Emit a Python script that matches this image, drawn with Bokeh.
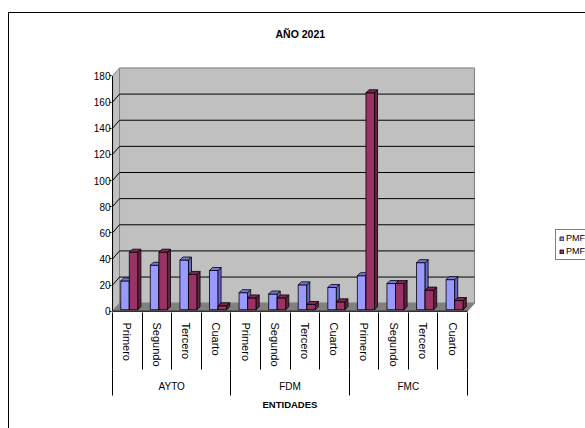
from bokeh.plotting import figure
from bokeh.models import Range1d, LinearAxis, FixedTicker, Legend, LegendItem, Title
from bokeh.embed import file_html
from bokeh.resources import INLINE

# ---------------- data ----------------
groups = ["AYTO", "FDM", "FMC"]
periods = ["Primero", "Segundo", "Tercero", "Cuarto"]
series_names = ["PMF", "PMF"]
pmf_a = [22, 34, 38, 30, 13, 12, 19, 17, 26, 20, 36, 23]
pmf_b = [44, 44, 27, 3, 9, 9, 4, 6, 166, 20, 15, 7]
y_ticks = [0, 20, 40, 60, 80, 100, 120, 140, 160, 180]
title_text = "AÑO 2021"
x_title = "ENTIDADES"

# ---------------- geometry / style ----------------
W, H = 585, 428
PX_X = 29.58          # px per category
PX_Y = 1.3056         # px per value unit
n = len(groups) * len(periods)
FL, FT = 111, 65
x0 = -0.035
x1 = x0 + (W - FL) / PX_X        # frame runs to the right edge (legend area)
y0, y1 = -1.0, 188.0
FH = round((y1 - y0) * PX_Y)

WDX, WDY = 7 / PX_X, 8 / PX_Y        # wall depth
BSX, BSY = 2 / PX_X, 1.5 / PX_Y      # bar placement inside depth
BDX, BDY = 3 / PX_X, 3 / PX_Y        # bar depth
BW = 0.29
ymax = y_ticks[-1]

BLUE, BLUE_SIDE, BLUE_TOP = "#9999ff", "#6666cc", "#7777dd"
MAR, MAR_SIDE, MAR_TOP = "#993366", "#66223f", "#7a2950"

border_css = ("linear-gradient(#000,#000) 8px 12px / 100% 1px no-repeat, "
              "linear-gradient(#000,#000) 8px 12px / 1px 100% no-repeat")

p = figure(width=W, height=H, output_backend="svg", toolbar_location=None,
           x_range=Range1d(x0, x1), y_range=Range1d(y0, y1),
           x_axis_location=None,
           min_border_left=FL, min_border_top=FT,
           min_border_right=0, min_border_bottom=H - FT - FH,
           styles={"background": border_css})
p.outline_line_color = None
p.grid.grid_line_color = None
p.background_fill_color = None
p.border_fill_color = None

# ---- walls and floor ----
p.patch([0, WDX, WDX, 0], [0, WDY, ymax + WDY, ymax], fill_color="#c0c0c0",
        line_color="#808080", line_width=1)
p.quad(left=[WDX], right=[n + WDX], bottom=[WDY], top=[ymax + WDY],
       fill_color="#c0c0c0", line_color="#808080", line_width=1)
p.patch([0, n, n + WDX, WDX], [0, 0, WDY, WDY], fill_color="#808080",
        line_color="#808080", line_width=1)

# gridlines on back wall and left wall
gx, gy = [], []
for v in y_ticks[1:-1]:
    gx.append([0, WDX, n + WDX]); gy.append([v, v + WDY, v + WDY])
p.multi_line(gx, gy, line_color="black", line_width=1)

# front axis edges
p.line([0, 0], [0, ymax], line_color="black", line_width=1)
p.line([0, n], [0, 0], line_color="black", line_width=1)

# ---- 3D bars ----
def bars(vals, dx, front, side, topc):
    xl = [i + 0.5 + BSX + dx - BW / 2 for i in range(n)]
    xr = [x + BW for x in xl]
    b = BSY
    r = p.quad(left=xl, right=xr, bottom=[b] * n, top=[b + v for v in vals],
               fill_color=front, line_color="black", line_width=0.8)
    sx = [[a, a + BDX, a + BDX, a] for a in xr]
    sy = [[b, b + BDY, b + v + BDY, b + v] for v in vals]
    p.patches(sx, sy, fill_color=side, line_color="black", line_width=0.8)
    tx = [[l, l + BDX, rr + BDX, rr] for l, rr in zip(xl, xr)]
    ty = [[b + v, b + v + BDY, b + v + BDY, b + v] for v in vals]
    p.patches(tx, ty, fill_color=topc, line_color="black", line_width=0.8)
    return r

ra = bars(pmf_a, -BW / 2, BLUE, BLUE_SIDE, BLUE_TOP)
rb = bars(pmf_b, BW / 2, MAR, MAR_SIDE, MAR_TOP)

# ---- y axis ----
p.yaxis.ticker = FixedTicker(ticks=y_ticks)
p.yaxis.axis_line_color = None
p.yaxis.major_tick_out = 2
p.yaxis.major_tick_in = 0
p.yaxis.minor_tick_line_color = None
p.yaxis.major_label_standoff = -1
p.yaxis.major_label_text_font = "Liberation Sans"
p.yaxis.major_label_text_font_size = "10px"
p.yaxis.major_label_text_color = "black"

# ---- x axis: periods ----
SUB_TICK = 57
centers = [i + 0.5 for i in range(n)]
sub_labels = {c: periods[i % len(periods)] for i, c in enumerate(centers)}
ax1 = LinearAxis(ticker=FixedTicker(ticks=centers, minor_ticks=list(range(n + 1))),
                 bounds=(0, n),
                 major_label_overrides=sub_labels,
                 major_label_orientation="vertical",
                 major_tick_out=0, major_tick_in=0,
                 minor_tick_out=SUB_TICK, minor_tick_in=0,
                 minor_tick_line_color="black",
                 axis_line_color=None,
                 major_label_standoff=10 - SUB_TICK,
                 major_label_text_font="Liberation Sans",
                 major_label_text_font_size="11px",
                 major_label_text_color="black")
p.add_layout(ax1, "below")

# ---- x axis: groups ----
GRP_TICK = 26
gcent = [len(periods) * (g + 0.5) for g in range(len(groups))]
gb = [len(periods) * g for g in range(len(groups) + 1)]
ax2 = LinearAxis(ticker=FixedTicker(ticks=gcent, minor_ticks=gb),
                 bounds=(0, n),
                 major_label_overrides={c: groups[i] for i, c in enumerate(gcent)},
                 major_tick_out=0, major_tick_in=0,
                 minor_tick_out=GRP_TICK, minor_tick_in=0,
                 minor_tick_line_color="black",
                 axis_line_color=None,
                 major_label_standoff=-15,
                 major_label_text_font="Liberation Sans",
                 major_label_text_font_size="10px",
                 major_label_text_color="black")
p.add_layout(ax2, "below")

# ---- x-axis title (centred under the category area) ----
xt = Title(text=x_title, align="left", offset=151, vertical_align="top",
           standoff=8, text_font="Liberation Sans", text_font_size="9.5px",
           text_font_style="bold", text_color="black")
p.add_layout(xt, "below")

# ---- title ----
p.title.text = title_text
p.title.align = "left"
p.title.offset = 164
p.title.standoff = 51
p.title.text_font = "Liberation Sans"
p.title.text_font_size = "10.5px"
p.title.text_font_style = "bold"
p.title.text_color = "black"

# ---- legend ----
legend = Legend(items=[LegendItem(label=series_names[0], renderers=[ra]),
                       LegendItem(label=series_names[1], renderers=[rb])],
                location=(444, 52), orientation="vertical",
                border_line_color="black", border_line_width=1,
                background_fill_color="white", background_fill_alpha=1,
                padding=3, margin=0, spacing=3,
                glyph_width=5, glyph_height=5, label_height=9,
                label_standoff=2, label_width=30,
                label_text_font="Liberation Sans", label_text_font_size="9px",
                label_text_color="black")
p.add_layout(legend, "center")

open("out.html", "w").write(file_html(p, INLINE))
